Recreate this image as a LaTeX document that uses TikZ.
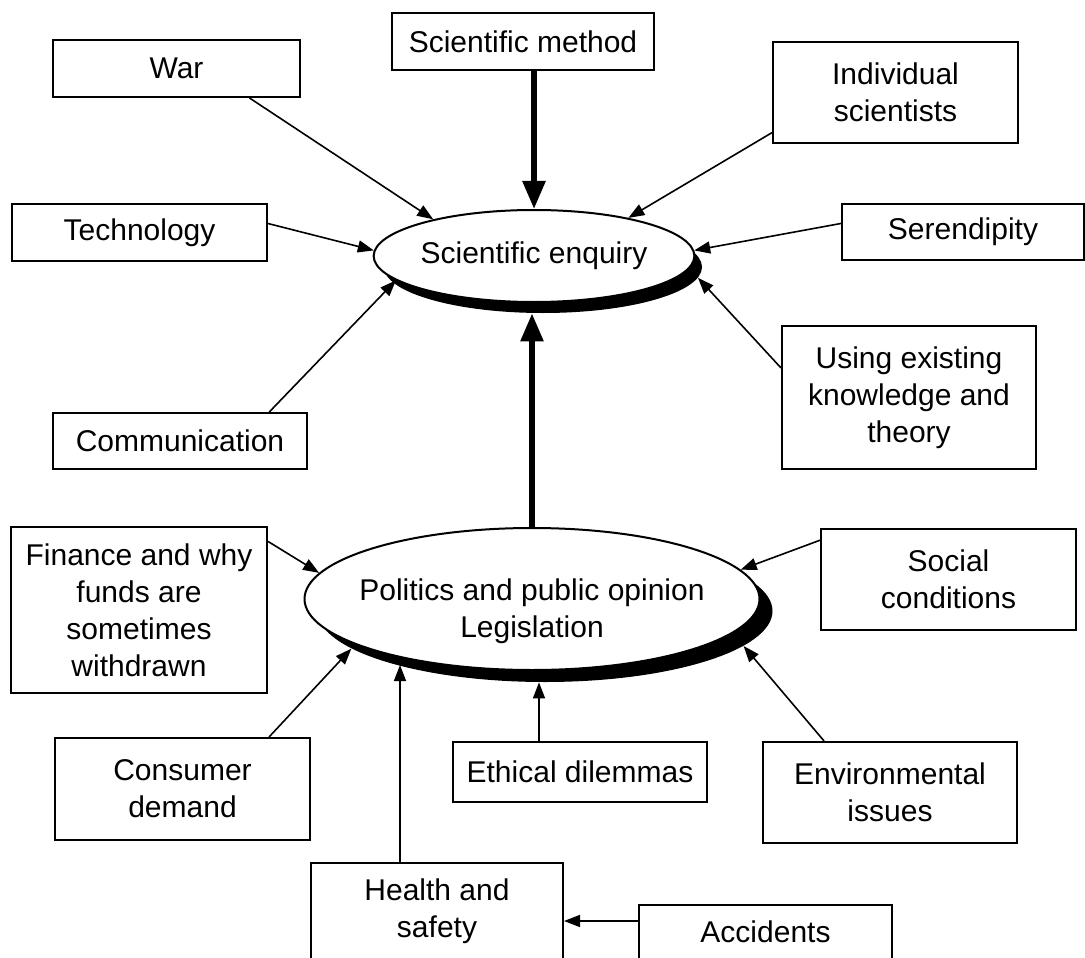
\documentclass[tikz,border=0pt]{standalone}
\usepackage{fontspec}
\setmainfont{Liberation Sans}
\usetikzlibrary{shapes.geometric,arrows.meta}

\begin{document}
\begin{tikzpicture}[
	x=0.5pt,y=-0.5pt,
	font=\fontsize{15}{18.5}\selectfont,
	box/.style={rectangle,draw,line width=1pt,align=center,inner sep=0pt},
	blob/.style={ellipse,draw,line width=1pt,fill=white,inner sep=0pt},
	blobshadow/.style={ellipse,fill=black,inner sep=0pt},
	arr/.style={line width=0.8pt,-{Triangle[length=8pt,width=6pt]}},
	bigarr/.style={line width=2.8pt,-{Triangle[length=14pt,width=11pt]}},
	]
	\clip (0,0) rectangle (1085,957);
	\node [blobshadow,minimum width=159pt,minimum height=46pt] (enqsh) at (543,267) {};
	\node [blob,minimum width=159pt,minimum height=46pt] (enq) at (534,256) {Scientific enquiry};
	\node [blobshadow,minimum width=227.5pt,minimum height=71pt] (polsh) at (545,611) {};
	\node [blob,minimum width=227.5pt,minimum height=71pt,
		label={[align=center,yshift=-6pt]center:Politics and public opinion\\Legislation}] (pol) at (532,599) {};

	\node [box,minimum width=123.5pt,minimum height=28.5pt] (war) at (176.5,68.5) {War};
	\node [box,minimum width=131pt,minimum height=28.5pt] (method) at (523,41.5) {Scientific method};
	\node [box,minimum width=122.5pt,minimum height=50.5pt] (indiv) at (895.5,92.5) {Individual\\scientists};
	\node [box,minimum width=127.5pt,minimum height=28.5pt] (tech) at (139.5,232.5) {Technology};
	\node [box,minimum width=121pt,minimum height=28pt] (seren) at (963,232) {Serendipity};
	\node [box,minimum width=127pt,minimum height=71.5pt] (using) at (909,397.5) {Using existing\\knowledge and\\theory};
	\node [box,minimum width=127pt,minimum height=28pt] (comm) at (180,441) {Communication};
	\node [box,minimum width=128pt,minimum height=83pt] (fin) at (139,610) {Finance and why\\funds are\\sometimes\\withdrawn};
	\node [box,minimum width=127.5pt,minimum height=50.5pt] (social) at (948.5,579.5) {Social\\conditions};
	\node [box,minimum width=127.5pt,minimum height=51pt] (cons) at (182.5,789) {Consumer\\demand};
	\node [box,minimum width=127pt,minimum height=30pt] (eth) at (580,772) {Ethical dilemmas};
	\node [box,minimum width=127pt,minimum height=50.5pt] (env) at (890,792.5) {Environmental\\issues};
	\node [box,minimum width=126pt,minimum height=48.5pt] (health) at (437,911.5) {Health and\\safety};
	\node [box,minimum width=126.5pt,minimum height=27pt] (acc) at (765.5,932) {Accidents};

	\draw[bigarr] (method.south -| enq.north) -- (enq.north);
	\draw[bigarr] (pol.north) -- (pol.north |- enqsh.south);
	\draw[arr] (war.-22) -- (enq.160);
	\draw[arr] (indiv.198) -- (enq.22);
	\draw[arr] (tech.4) -- (enq.178);
	\draw[arr] (seren.176) -- (enq.2);
	\draw[arr] (comm.18.4) -- (enq.190);
	\draw[arr] (using.167) -- (enqsh.-4);
	\draw[arr] (fin.28.7) -- (pol.173);
	\draw[arr] (social.163) -- (pol.8);
	\draw[arr] (cons.31) -- (polsh.191);
	\draw[arr] (env.142) -- (polsh.-10.5);
	\draw[arr] ([xshift=-20.5pt]eth.north) -- ([xshift=-20.5pt]eth.north |- polsh.south);
	\draw[arr] ([xshift=-18.5pt]health.north) -- +(0,-197);
	\draw[arr] ([yshift=5.5pt]acc.west) -- ([yshift=5.5pt]acc.west -| health.east);
\end{tikzpicture}
\end{document}
